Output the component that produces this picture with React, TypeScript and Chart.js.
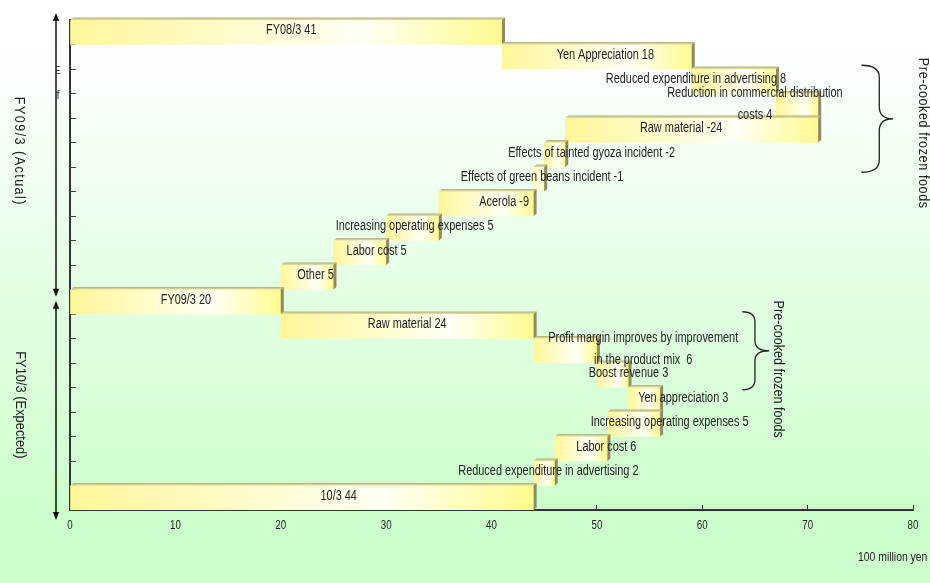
import React, { useEffect, useRef } from "react";
import { Chart, registerables } from "chart.js";

Chart.register(...registerables);

// ---------- data ----------
const categories = [
  "FY08/3",
  "Yen Appreciation",
  "Reduced expenditure in advertising",
  "Reduction in commercial distribution costs",
  "Raw material",
  "Effects of tainted gyoza incident",
  "Effects of green beans incident",
  "Acerola",
  "Increasing operating expenses",
  "Labor cost",
  "Other",
  "FY09/3",
  "Raw material ",
  "Profit margin improves by improvement in the product mix",
  "Boost revenue",
  "Yen appreciation",
  "Increasing operating expenses ",
  "Labor cost ",
  "Reduced expenditure in advertising ",
  "10/3",
];

const barFrom = [0, 41, 59, 67, 71, 47, 45, 44, 35, 30, 25, 0, 20, 44, 50, 53, 56, 51, 46, 0];
const barTo = [41, 59, 67, 71, 47, 45, 44, 35, 30, 25, 20, 20, 44, 50, 53, 56, 51, 46, 44, 44];

const barLabels: string[][] = [
  ["FY08/3 41"],
  ["Yen Appreciation 18"],
  ["Reduced expenditure in advertising 8"],
  ["Reduction in commercial distribution", "costs 4"],
  ["Raw material -24"],
  ["Effects of tainted gyoza incident -2"],
  ["Effects of green beans incident -1"],
  ["Acerola -9"],
  ["Increasing operating expenses 5"],
  ["Labor cost 5"],
  ["Other 5"],
  ["FY09/3 20"],
  ["Raw material 24"],
  ["Profit margin improves by improvement", "in the product mix  6"],
  ["Boost revenue 3"],
  ["Yen appreciation 3"],
  ["Increasing operating expenses 5"],
  ["Labor cost 6"],
  ["Reduced expenditure in advertising 2"],
  ["10/3 44"],
];

// where each label is centred, in axis units (100 million yen)
const labelAt = [21, 50.8, 59.4, 65, 58, 49.5, 44.8, 41.2, 32.7, 29.1, 23.3, 11, 32, 54.4, 53, 58.2, 56.9, 50.9, 45.4, 25.5];

const xTicks = { min: 0, max: 80, step: 10 };
const unitLabel = "100 million yen";
const periodLabels = ["FY09/3 (Actual)", "FY10/3 (Expected)"];
const groupLabel = "Pre-cooked frozen foods";

// ---------- helpers ----------
const FONT = '"Liberation Sans", Arial, sans-serif';
const TEXT = "#222222";

function condText(
  ctx: CanvasRenderingContext2D,
  text: string,
  x: number,
  y: number,
  size: number,
  align: "left" | "center" | "right",
  sx = 0.84,
  rot = 0,
  spacing = 0
) {
  ctx.save();
  ctx.font = `${size}px ${FONT}`;
  (ctx as any).letterSpacing = `${spacing}px`;
  ctx.textBaseline = "middle";
  ctx.textAlign = "left";
  ctx.fillStyle = TEXT;
  const w = ctx.measureText(text).width * sx;
  ctx.translate(x, y);
  if (rot) ctx.rotate(rot);
  const left = align === "center" ? -w / 2 : align === "right" ? -w : 0;
  ctx.translate(left, 0);
  ctx.scale(sx, 1);
  ctx.fillText(text, 0, 0);
  ctx.restore();
}

function brace(
  ctx: CanvasRenderingContext2D,
  xTip: number,
  xMid: number,
  xPoint: number,
  yTop: number,
  yBot: number,
  r: number
) {
  const yc = (yTop + yBot) / 2;
  ctx.save();
  ctx.strokeStyle = "#222";
  ctx.lineWidth = 1.3;
  ctx.beginPath();
  ctx.moveTo(xTip, yTop);
  ctx.quadraticCurveTo(xMid, yTop, xMid, yTop + r);
  ctx.lineTo(xMid, yc - r);
  ctx.quadraticCurveTo(xMid, yc, xPoint, yc);
  ctx.quadraticCurveTo(xMid, yc, xMid, yc + r);
  ctx.lineTo(xMid, yBot - r);
  ctx.quadraticCurveTo(xMid, yBot, xTip, yBot);
  ctx.stroke();
  ctx.restore();
}

function arrowHead(ctx: CanvasRenderingContext2D, x: number, tipY: number, dir: 1 | -1) {
  ctx.beginPath();
  ctx.moveTo(x, tipY);
  ctx.lineTo(x - 3.2, tipY - dir * 8);
  ctx.lineTo(x + 3.2, tipY - dir * 8);
  ctx.closePath();
  ctx.fill();
}

// ---------- plugins ----------
const backgroundPlugin = {
  id: "bg",
  beforeDraw(chart: any) {
    const { ctx, width, height } = chart;
    const g = ctx.createLinearGradient(0, 0, 0, height);
    g.addColorStop(0, "#ffffff");
    g.addColorStop(0.06, "#ffffff");
    g.addColorStop(0.88, "#ccffcc");
    g.addColorStop(1, "#ccffcc");
    ctx.save();
    ctx.fillStyle = g;
    ctx.fillRect(0, 0, width, height);
    ctx.restore();
  },
};

const bar3dPlugin = {
  id: "bar3d",
  afterDatasetsDraw(chart: any) {
    const { ctx } = chart;
    const meta = chart.getDatasetMeta(0);
    const dx = 3;
    const dy = 2.5;
    ctx.save();
    meta.data.forEach((el: any) => {
      const { x, base, y, height } = el.getProps(["x", "base", "y", "height"], true);
      const l = Math.min(x, base);
      const r = Math.max(x, base);
      const t = y - height / 2;
      const b = y + height / 2;
      const tg = ctx.createLinearGradient(0, t - dy, 0, t);
      tg.addColorStop(0, "#b2ad78");
      tg.addColorStop(1, "#e6e2a4");
      ctx.fillStyle = tg;
      ctx.beginPath();
      ctx.moveTo(l, t);
      ctx.lineTo(l + dx, t - dy);
      ctx.lineTo(r + dx, t - dy);
      ctx.lineTo(r, t);
      ctx.closePath();
      ctx.fill();
      ctx.fillStyle = "#8e8b62";
      ctx.beginPath();
      ctx.moveTo(r, t);
      ctx.lineTo(r + dx, t - dy);
      ctx.lineTo(r + dx, b - dy);
      ctx.lineTo(r, b);
      ctx.closePath();
      ctx.fill();
    });
    ctx.restore();
  },
};

const annotationPlugin = {
  id: "annot",
  afterDraw(chart: any) {
    const { ctx, chartArea } = chart;
    const xs = chart.scales.x;
    const ys = chart.scales.y;
    const px = (v: number) => xs.getPixelForValue(v);
    const py = (i: number) => ys.getPixelForValue(i);

    // x tick labels (condensed, from the library's ticks)
    xs.ticks.forEach((t: any) => {
      condText(ctx, String(t.value), px(t.value), chartArea.bottom + 15, 13, "center", 0.75);
    });

    // bar labels
    barLabels.forEach((lines, i) => {
      const cx = px(labelAt[i]);
      const cy = py(i) - 2;
      if (lines.length === 1) {
        condText(ctx, lines[0], cx, cy, 14, "center", 0.78);
      } else {
        condText(ctx, lines[0], cx, cy - 11, 14, "center", 0.78);
        condText(ctx, lines[1], cx, cy + 11, 14, "center", 0.78);
      }
    });

    // left period arrows
    const ax = 56;
    const top = chartArea.top - 7;
    const split = py(11);
    const bot = chartArea.bottom + 10;
    ctx.save();
    ctx.strokeStyle = "#111";
    ctx.fillStyle = "#111";
    ctx.lineWidth = 1.5;
    ctx.beginPath();
    ctx.moveTo(ax, top + 4);
    ctx.lineTo(ax, split - 9);
    ctx.moveTo(ax, split + 3);
    ctx.lineTo(ax, bot - 4);
    ctx.stroke();
    arrowHead(ctx, ax, top, -1);
    arrowHead(ctx, ax, split - 5, 1);
    arrowHead(ctx, ax, split - 1, -1);
    arrowHead(ctx, ax, bot, 1);
    ctx.restore();

    condText(ctx, periodLabels[0], 19, (top + split) / 2 - 6, 14, "center", 0.9, Math.PI / 2, 1.6);
    condText(ctx, periodLabels[1], 20, (split + bot) / 2 - 6, 14, "center", 0.92, Math.PI / 2);

    // small stray marks near the axis
    condText(ctx, "\u039E", 58, py(2) - 10, 11, "center", 0.7);
    condText(ctx, "f", 58, py(3) - 10, 12, "center", 0.8);

    // braces for pre-cooked frozen foods
    brace(ctx, px(75.1), px(76.8), px(78.1), py(2) - 16, py(6) - 7, 12);
    condText(ctx, groupLabel, px(81), py(4) + 3, 15, "center", 0.84, Math.PI / 2, 0.7);
    brace(ctx, px(63.8), px(65.0), px(66.35), py(12) - 14.5, py(15) - 10, 10);
    condText(ctx, groupLabel, px(67.2), py(14) - 6, 15, "center", 0.84, Math.PI / 2);

    // unit label
    condText(ctx, unitLabel, chartArea.right - 55, chartArea.bottom + 47, 13, "left", 0.8);
  },
};

// ---------- component ----------
export default function App() {
  const ref = useRef<HTMLCanvasElement>(null);

  useEffect(() => {
    document.body.style.margin = "0";
    const canvas = ref.current!;
    const data = barFrom.map((f, i) => [f, barTo[i]]);

    const chart = new Chart(canvas, {
      type: "bar",
      data: {
        labels: categories,
        datasets: [
          {
            data: data as any,
            barPercentage: 1,
            categoryPercentage: 1,
            borderWidth: 0,
            backgroundColor: (c: any) => {
              const ch = c.chart;
              const i = c.dataIndex;
              if (!ch.chartArea || i === undefined) return "#ffff99";
              const xs = ch.scales.x;
              const a = xs.getPixelForValue(Math.min(barFrom[i], barTo[i]));
              const b = xs.getPixelForValue(Math.max(barFrom[i], barTo[i]));
              const g = ch.ctx.createLinearGradient(a, 0, b, 0);
              g.addColorStop(0, "#fff699");
              g.addColorStop(0.68, "#fffff4");
              g.addColorStop(1, "#fffb8e");
              return g;
            },
          },
        ],
      },
      options: {
        indexAxis: "y",
        responsive: false,
        maintainAspectRatio: false,
        animation: false,
        devicePixelRatio: 1,
        layout: { padding: { left: 70, right: 17, top: 20, bottom: 43 } },
        plugins: {
          legend: { display: false },
          tooltip: { enabled: false },
        },
        scales: {
          x: {
            type: "linear",
            min: xTicks.min,
            max: xTicks.max,
            ticks: { stepSize: xTicks.step, display: false },
            grid: { drawOnChartArea: false, drawTicks: true, tickLength: -5, color: "#333", lineWidth: 1 },
            border: { display: true, color: "#333", width: 2 },
            afterFit: (s: any) => {
              s.height = 30;
            },
          },
          y: {
            type: "category",
            offset: true,
            ticks: { display: false },
            grid: { offset: true, drawOnChartArea: false, drawTicks: true, tickLength: -6, color: "#444", lineWidth: 1 },
            border: { display: true, color: "#333", width: 2 },
            afterFit: (s: any) => {
              s.width = 0;
            },
          },
        },
      } as any,
      plugins: [backgroundPlugin, bar3dPlugin, annotationPlugin],
    });

    return () => chart.destroy();
  }, []);

  return (
    <div style={{ width: 930, height: 583 }}>
      <canvas ref={ref} width={930} height={583} style={{ display: "block", width: 930, height: 583 }} />
    </div>
  );
}
